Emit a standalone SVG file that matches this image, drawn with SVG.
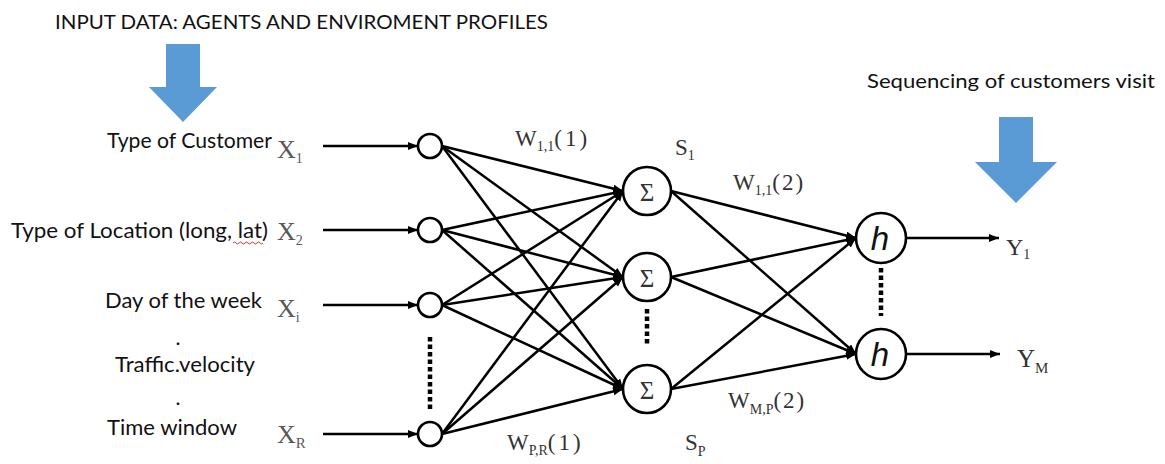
<svg xmlns="http://www.w3.org/2000/svg" width="1165" height="464" viewBox="0 0 1165 464">
<style>
.cal{font-family:Lato,"Open Sans","Liberation Sans",sans-serif;fill:#111;}
.tm{font-family:"Liberation Serif","Times New Roman",serif;fill:#333;}
.xl{font-family:"Liberation Serif","Times New Roman",serif;fill:#5a5a5a;font-size:26px;}
.node{fill:#fff;stroke:#000;stroke-width:2.6;}
.edge{stroke:#000;stroke-width:2.5;fill:none;marker-end:url(#ah);}
.dots{stroke:#000;stroke-width:4.5;stroke-dasharray:4.5 3;fill:none;}
.blue{fill:#5B9BD5;}
</style>
<defs>
<marker id="ah" markerUnits="userSpaceOnUse" markerWidth="12" markerHeight="10" refX="10" refY="4" orient="auto">
<path d="M0,0 L10,4 L0,8 Z" fill="#000"/>
</marker>
</defs>
<rect width="1165" height="464" fill="#fff"/>

<g id="titles">
<text class="cal" x="55" y="29" font-size="20" textLength="493" lengthAdjust="spacingAndGlyphs">INPUT DATA: AGENTS AND ENVIROMENT PROFILES</text>
<text class="cal" x="867" y="88" font-size="20" textLength="288" lengthAdjust="spacingAndGlyphs">Sequencing of customers visit</text>
</g>

<g id="arrow-input">
<polygon class="blue" points="166,44 200,44 200,87 217,87 183,122 149,87 166,87"/>
</g>
<g id="arrow-output">
<polygon class="blue" points="999,117 1033,117 1033,162 1057,162 1016,203 975,162 999,162"/>
</g>

<g id="input-labels">
<text class="cal" x="107" y="148" font-size="21" textLength="165" lengthAdjust="spacingAndGlyphs">Type of Customer</text>
<text class="cal" x="11" y="238" font-size="21" textLength="257" lengthAdjust="spacingAndGlyphs">Type of Location (long, lat)</text>
<path d="M233,243 q1.5,-2 3,0 t3,0 t3,0 t3,0 t3,0 t3,0 t3,0 t3,0 t3,0 t3,0" fill="none" stroke="#d02020" stroke-width="0.9"/>
<text class="cal" x="105" y="308" font-size="21" textLength="157" lengthAdjust="spacingAndGlyphs">Day of the week</text>
<text class="cal" x="178" y="345" font-size="21" text-anchor="middle">.</text>
<text class="cal" x="115" y="372" font-size="21" textLength="140" lengthAdjust="spacingAndGlyphs">Traffic.velocity</text>
<text class="cal" x="178" y="405" font-size="21" text-anchor="middle">.</text>
<text class="cal" x="107" y="435" font-size="21" textLength="130" lengthAdjust="spacingAndGlyphs">Time window</text>
</g>

<g id="x-labels">
<text class="xl" x="277" y="158">X<tspan font-size="14" dy="5">1</tspan></text>
<text class="xl" x="277" y="240">X<tspan font-size="14" dy="5">2</tspan></text>
<text class="xl" x="277" y="317">X<tspan font-size="14" dy="5">i</tspan></text>
<text class="xl" x="277" y="443">X<tspan font-size="15" dy="5">R</tspan></text>
</g>

<g id="connectors">
<line class="edge" x1="323" y1="146" x2="418" y2="146"/>
<line class="edge" x1="323" y1="230" x2="418" y2="230"/>
<line class="edge" x1="323" y1="305" x2="418" y2="305"/>
<line class="edge" x1="323" y1="434" x2="418" y2="434"/>

<line class="edge" x1="442" y1="146" x2="623" y2="191"/>
<line class="edge" x1="442" y1="146" x2="623" y2="277"/>
<line class="edge" x1="442" y1="146" x2="623" y2="389"/>
<line class="edge" x1="442" y1="230" x2="623" y2="191"/>
<line class="edge" x1="442" y1="230" x2="623" y2="277"/>
<line class="edge" x1="442" y1="230" x2="623" y2="389"/>
<line class="edge" x1="442" y1="305" x2="623" y2="191"/>
<line class="edge" x1="442" y1="305" x2="623" y2="277"/>
<line class="edge" x1="442" y1="305" x2="623" y2="389"/>
<line class="edge" x1="442" y1="434" x2="623" y2="191"/>
<line class="edge" x1="442" y1="434" x2="623" y2="277"/>
<line class="edge" x1="442" y1="434" x2="623" y2="389"/>

<line class="edge" x1="671" y1="191" x2="856" y2="238"/>
<line class="edge" x1="671" y1="191" x2="856" y2="354"/>
<line class="edge" x1="671" y1="277" x2="856" y2="238"/>
<line class="edge" x1="671" y1="277" x2="856" y2="354"/>
<line class="edge" x1="671" y1="389" x2="856" y2="238"/>
<line class="edge" x1="671" y1="389" x2="856" y2="354"/>

<line class="edge" x1="906" y1="238" x2="999" y2="238"/>
<line class="edge" x1="906" y1="354" x2="1000" y2="354"/>

<line class="dots" x1="430" y1="337" x2="430" y2="411"/>
<line class="dots" x1="647" y1="309" x2="647" y2="345"/>
<line class="dots" x1="881" y1="268" x2="881" y2="316"/>
</g>

<g id="input-nodes">
<circle id="in1" class="node" cx="430" cy="146" r="12"/>
<circle id="in2" class="node" cx="430" cy="230" r="12"/>
<circle id="in3" class="node" cx="430" cy="305" r="12"/>
<circle id="inR" class="node" cx="430" cy="434" r="12"/>
</g>

<g id="hidden-nodes">
<g id="s1"><circle class="node" cx="647" cy="191" r="24"/><text class="tm" x="647" y="201" font-size="25" text-anchor="middle">Σ</text></g>
<g id="s2"><circle class="node" cx="647" cy="277" r="24"/><text class="tm" x="647" y="287" font-size="25" text-anchor="middle">Σ</text></g>
<g id="sP"><circle class="node" cx="647" cy="389" r="24"/><text class="tm" x="647" y="399" font-size="25" text-anchor="middle">Σ</text></g>
</g>

<g id="output-nodes">
<g id="h1"><circle class="node" cx="881" cy="238" r="25"/><text x="880" y="250" font-family="'Liberation Sans',Arial,sans-serif" font-style="italic" font-size="33" text-anchor="middle" fill="#111">h</text></g>
<g id="hM"><circle class="node" cx="881" cy="354" r="25"/><text x="880" y="366" font-family="'Liberation Sans',Arial,sans-serif" font-style="italic" font-size="33" text-anchor="middle" fill="#111">h</text></g>
</g>

<g id="weight-labels">
<text class="tm" x="515" y="146" font-size="23">W<tspan font-size="14" dy="5">1,1</tspan><tspan dy="-5" letter-spacing="3">(1)</tspan></text>
<text class="tm" x="507" y="450" font-size="23">W<tspan font-size="14" dy="5">P,R</tspan><tspan dy="-5" letter-spacing="3">(1)</tspan></text>
<text class="tm" x="733" y="190" font-size="23">W<tspan font-size="14" dy="5">1,1</tspan><tspan dy="-5" letter-spacing="2">(2)</tspan></text>
<text class="tm" x="728" y="408" font-size="23">W<tspan font-size="14" dy="6">M,P</tspan><tspan dy="-6" letter-spacing="2">(2)</tspan></text>
<text class="tm" x="675" y="155" font-size="23">S<tspan font-size="14" dy="5">1</tspan></text>
<text class="tm" x="685" y="450" font-size="23">S<tspan font-size="14" dy="6">P</tspan></text>
<text class="tm" x="1006" y="255" font-size="24">Y<tspan font-size="14" dy="4">1</tspan></text>
<text class="tm" x="1017" y="367" font-size="25">Y<tspan font-size="15" dy="6">M</tspan></text>
</g>
</svg>
